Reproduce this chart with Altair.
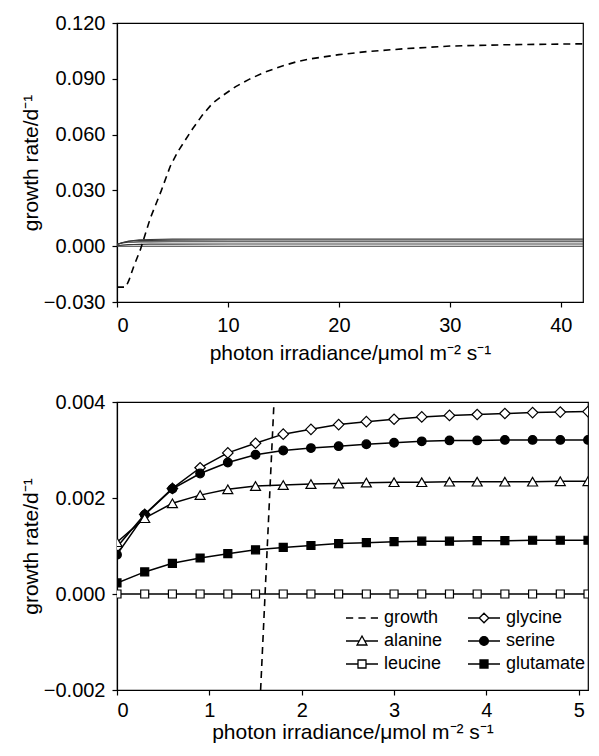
import altair as alt
import pandas as pd

FONT = "Liberation Sans"

# ---------------- top panel (0-42) ----------------
top_growth_x = [0, 0.8, 1.1, 1.5, 2.1, 3.0, 4.0, 4.8, 5.5, 6.8, 7.7, 8.6, 9.6, 10.7,
                11.9, 13.2, 14.7, 16.2, 17.2, 20.0, 22.5, 26.0, 30.0, 35.0, 42.0]
top_growth_y = [-0.022, -0.022, -0.018, -0.011, -0.002, 0.015, 0.030, 0.043, 0.051, 0.063,
                0.0705, 0.0768, 0.0813, 0.0858, 0.0897, 0.0933, 0.0965, 0.0992, 0.1005,
                0.1030, 0.1046, 0.1062, 0.1076, 0.1083, 0.1088]

top_aa_x = [0, 0.5, 1, 1.5, 2, 3, 5, 10, 20, 42]
top_glycine = [0.0010, 0.0019, 0.0027, 0.0031, 0.0034, 0.0036, 0.0038, 0.0039, 0.0039, 0.0039]
top_serine = [0.0008, 0.0020, 0.0026, 0.0029, 0.0030, 0.0031, 0.0032, 0.0033, 0.0033, 0.0033]
top_alanine = [0.0011, 0.0018, 0.0021, 0.0022, 0.0023, 0.0023, 0.0024, 0.0024, 0.0024, 0.0024]
top_glutamate = [0.0002, 0.0006, 0.00085, 0.00092, 0.0010, 0.0011, 0.0011, 0.0012, 0.0012, 0.0012]
top_leucine = [0, 0, 0, 0, 0, 0, 0, 0, 0, 0]

top_x_ticks = [0, 10, 20, 30, 40]
top_y_ticks = [-0.030, 0.000, 0.030, 0.060, 0.090, 0.120]

# ---------------- bottom panel ----------------
bot_x = [0.0, 0.3, 0.6, 0.9, 1.2, 1.5, 1.8, 2.1, 2.4, 2.7, 3.0, 3.3, 3.6, 3.9, 4.2, 4.5, 4.8, 5.1]
bot_glycine = [0.00098, 0.00166, 0.00220, 0.00263, 0.00294, 0.00314, 0.00333, 0.00343, 0.00353,
               0.00359, 0.00364, 0.00369, 0.00372, 0.00374, 0.00376, 0.00378, 0.00379, 0.00380]
bot_serine = [0.00082, 0.00165, 0.00219, 0.00251, 0.00274, 0.00290, 0.00299, 0.00304, 0.00308,
              0.00312, 0.00315, 0.00318, 0.00320, 0.00320, 0.00321, 0.00321, 0.00321, 0.00321]
bot_alanine = [0.00108, 0.00158, 0.00189, 0.00206, 0.00218, 0.00225, 0.00227, 0.00229, 0.00230,
               0.00232, 0.00233, 0.00233, 0.00234, 0.00234, 0.00234, 0.00234, 0.00235, 0.00235]
bot_glutamate = [0.00023, 0.00046, 0.00064, 0.00075, 0.00084, 0.00092, 0.00097, 0.00101, 0.00105,
                 0.00107, 0.00109, 0.00110, 0.00110, 0.00111, 0.00111, 0.00112, 0.00112, 0.00112]
bot_leucine = [0.0] * 18
bot_growth_x = [1.555, 1.700]
bot_growth_y = [-0.002, 0.004]

bot_x_ticks = [0, 1, 2, 3, 4, 5]
bot_y_ticks = [-0.002, 0.000, 0.002, 0.004]

# legend entries (column-major order: left column, then right column)
legend_names = ["growth", "alanine", "leucine", "glycine", "serine", "glutamate"]
legend_paths = [
    "M-2,0H-1.1M-0.45,0H0.45M1.1,0H2",
    "M-2,0H-0.33M0.33,0H2M0,-0.62L0.62,0.5L-0.62,0.5Z",
    "M-2,0H-0.5M0.5,0H2M-0.5,-0.5H0.5V0.5H-0.5Z",
    "M-2,0H-0.6M0.6,0H2M0,-0.6L0.6,0L0,0.6L-0.6,0Z",
    "M-2,0H2M-0.55,0A0.55,0.55,0,1,0,0.55,0A0.55,0.55,0,1,0,-0.55,0Z",
    "M-2,0H2M-0.5,-0.5H0.5V0.5H-0.5Z",
]
legend_fills = ["white", "white", "white", "white", "black", "black"]
legend_strokes = ["black"] * 6

X_TITLE = "photon irradiance/\u03bcmol m\u207b\u00b2 s\u207b\u00b9"
Y_TITLE = "growth rate/d\u207b\u00b9"

# ---------------- top chart ----------------
top_growth_df = pd.DataFrame({"x": top_growth_x, "y": top_growth_y})
top_aa_df = pd.concat([
    pd.DataFrame({"x": top_aa_x, "y": v, "series": n})
    for n, v in [("glycine", top_glycine), ("serine", top_serine), ("alanine", top_alanine),
                 ("glutamate", top_glutamate), ("leucine", top_leucine)]
])

x_top = alt.X("x:Q", scale=alt.Scale(domain=[0, 42], nice=False, zero=False),
              axis=alt.Axis(values=top_x_ticks, format="d", title=X_TITLE,
                            labelPadding=8, titlePadding=7))
y_top = alt.Y("y:Q", scale=alt.Scale(domain=[-0.030, 0.120], nice=False, zero=False),
              axis=alt.Axis(values=top_y_ticks, format=".3f", title=Y_TITLE))

top_lines = alt.Chart(top_aa_df).mark_line(color="#3a3a3a", strokeWidth=1.1).encode(
    x=x_top, y=y_top, detail="series:N")
top_growth = alt.Chart(top_growth_df).mark_line(color="black", strokeWidth=1.6, strokeDash=[7, 5]).encode(
    x=x_top, y=y_top)
top = alt.layer(top_lines, top_growth).properties(width=466, height=279)

# ---------------- bottom chart ----------------
bot_df = pd.concat([
    pd.DataFrame({"x": bot_x, "y": v, "series": n})
    for n, v in [("glycine", bot_glycine), ("serine", bot_serine), ("alanine", bot_alanine),
                 ("glutamate", bot_glutamate), ("leucine", bot_leucine)]
])
bot_growth_df = pd.DataFrame({"x": bot_growth_x, "y": bot_growth_y})

x_bot = alt.X("x:Q", scale=alt.Scale(domain=[0, 5.1], nice=False, zero=False),
              axis=alt.Axis(values=bot_x_ticks, format="d", title=X_TITLE,
                            labelPadding=5, titlePadding=1))
y_bot = alt.Y("y:Q", scale=alt.Scale(domain=[-0.002, 0.004], nice=False, zero=False),
              axis=alt.Axis(values=bot_y_ticks, format=".3f", title=Y_TITLE))

bot_lines = alt.Chart(bot_df).mark_line(color="black", strokeWidth=1.5, clip=True).encode(
    x=x_bot, y=y_bot, detail="series:N")

marker_specs = [
    ("glycine", "diamond", "white", 110),
    ("serine", "circle", "black", 75),
    ("alanine", "triangle-up", "white", 100),
    ("leucine", "square", "white", 64),
    ("glutamate", "square", "black", 64),
]
point_layers = [
    alt.Chart(bot_df).transform_filter(alt.datum.series == n).mark_point(
        shape=s, filled=True, fill=f, stroke="black", strokeWidth=1.2, size=sz, opacity=1, clip=True
    ).encode(x=x_bot, y=y_bot)
    for n, s, f, sz in marker_specs
]

bot_growth = alt.Chart(bot_growth_df).mark_line(color="black", strokeWidth=1.6, strokeDash=[7, 5],
                                                clip=True).encode(x=x_bot, y=y_bot)

legend_def = alt.Legend(
    title=None, orient="none", legendX=236, legendY=207, columns=2, symbolSize=256,
    symbolStrokeWidth=1.3, labelFont=FONT, labelFontSize=18,
    labelColor="black", labelOffset=13, columnPadding=22, rowPadding=5, padding=0,
)
legend_layer = alt.Chart(pd.DataFrame({"series": legend_names})).transform_filter("false").mark_point(
    strokeWidth=1.3, opacity=1
).encode(
    shape=alt.Shape("series:N", scale=alt.Scale(domain=legend_names, range=legend_paths),
                    legend=legend_def, sort=legend_names),
    fill=alt.Fill("series:N", scale=alt.Scale(domain=legend_names, range=legend_fills),
                  legend=legend_def, sort=legend_names),
    stroke=alt.Stroke("series:N", scale=alt.Scale(domain=legend_names, range=legend_strokes),
                      legend=legend_def, sort=legend_names),
)

bottom = alt.layer(bot_lines, *point_layers, bot_growth, legend_layer).properties(width=471, height=288)

chart = alt.vconcat(top, bottom, spacing=27).resolve_scale(
    shape="independent", fill="independent", stroke="independent"
).resolve_legend(
    shape="independent", fill="independent", stroke="independent"
).properties(
    padding={"left": 11, "top": 4, "right": 0, "bottom": 0}
).configure_axis(
    labelFont=FONT, titleFont=FONT, labelFontSize=20, titleFontSize=21,
    labelColor="black", titleColor="black", titleFontWeight="normal",
    domainColor="black", tickColor="black", tickSize=5, grid=False,
    labelPadding=7, domainWidth=1.2, tickWidth=1.2,
).configure_axisY(titlePadding=2).configure_view(
    stroke="black", strokeWidth=1.2)

chart.save("out.html", embed_options={"renderer": "svg", "actions": False})
